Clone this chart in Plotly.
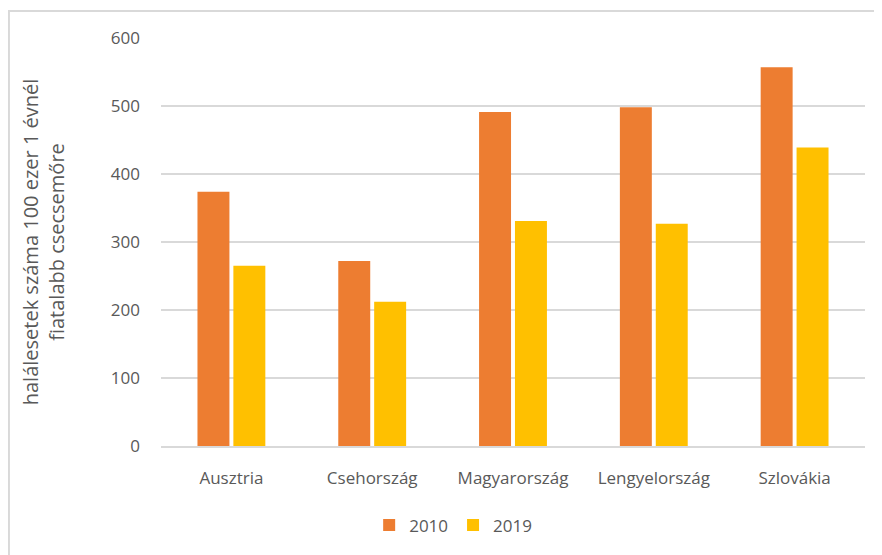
import plotly.graph_objects as go

# Data
countries = ["Ausztria", "Csehország", "Magyarország", "Lengyelország", "Szlovákia"]
values_2010 = [374, 272, 491, 498, 557]
values_2019 = [265, 212, 331, 327, 439]

font_family = "Open Sans, Liberation Sans, sans-serif"
text_color = "#595959"

fig = go.Figure()

fig.add_trace(go.Bar(
    x=countries, y=values_2010, name="2010",
    marker=dict(color="#ED7D31", line=dict(width=0)),
))
fig.add_trace(go.Bar(
    x=countries, y=values_2019, name="2019",
    marker=dict(color="#FFC000", line=dict(width=0)),
))

# Thin grey frame around the chart (only left/top visible in the crop)
fig.add_shape(
    type="rect", xref="paper", yref="paper",
    x0=-0.216, x1=1.05, y0=-0.35, y1=1.066,
    line=dict(color="#D9D9D9", width=2), layer="below",
)

# page body adds an 8px margin, so the figure is shrunk to fit the window
fig.update_layout(
    width=874, height=547,
    margin=dict(l=153, r=17, t=30, b=104),
    paper_bgcolor="white", plot_bgcolor="white",
    barmode="group", bargap=0.49, bargroupgap=0.11,
    font=dict(family=font_family, color=text_color, size=17),
    showlegend=True,
    legend=dict(
        orientation="h", x=0.415, xanchor="center", y=-0.195, yanchor="middle",
        font=dict(size=17, color=text_color), traceorder="normal",
        itemwidth=30,
    ),
    xaxis=dict(
        showgrid=False, showline=True, linecolor="#D9D9D9", linewidth=2,
        ticks="", ticklabelstandoff=16, automargin=False,
        tickfont=dict(size=17, color=text_color),
    ),
    yaxis=dict(
        range=[0, 600], dtick=100, showgrid=True, gridcolor="#D9D9D9", gridwidth=2,
        zeroline=False, showline=False, ticks="", ticklabelstandoff=20,
        tickfont=dict(size=17, color=text_color),
        title=dict(
            text="halálesetek száma 100 ezer 1 évnél<br>fiatalabb csecsemőre",
            font=dict(size=20, color=text_color), standoff=40,
        ),
    ),
)

fig.write_html("out.html")
